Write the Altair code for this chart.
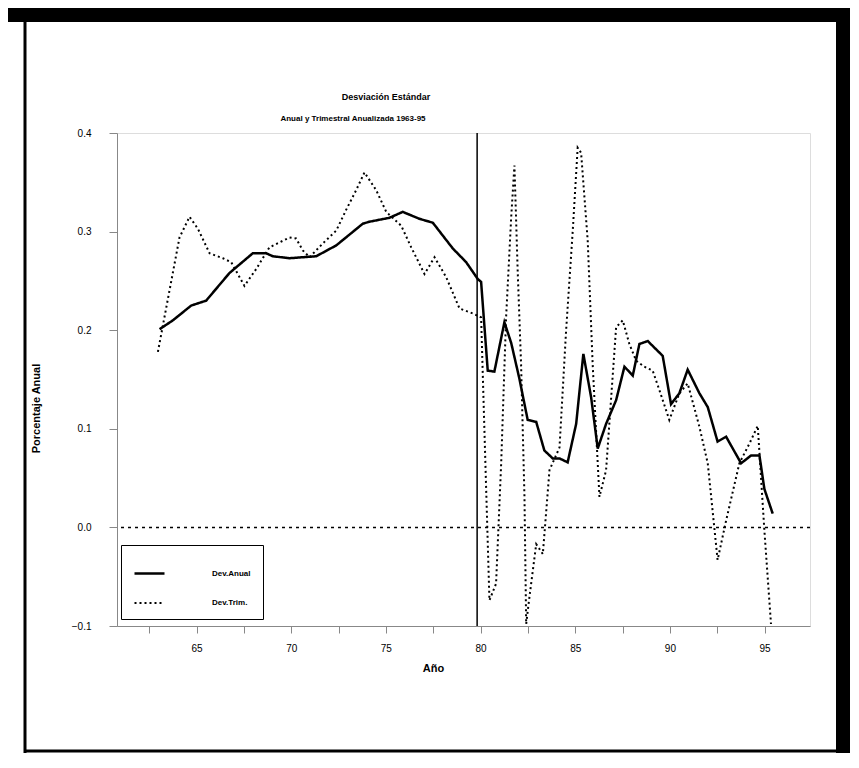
import altair as alt
import pandas as pd

title_text = "Desviación Estándar"
subtitle_text = "Anual y Trimestral Anualizada 1963-95"
y_title = "Porcentaje Anual"
x_title = "Año"
series = ["Dev.Anual", "Dev.Trim."]

anual_year = [63.05, 63.75, 64.72, 65.51, 66.74, 67.97, 68.68, 69.03, 69.91, 71.32,
              72.38, 73.78, 74.13, 75.19, 75.89, 76.77, 77.48, 78.53, 79.24, 79.85,
              80.03, 80.38, 80.73, 81.26, 81.62, 82.05, 82.49, 82.94, 83.37, 83.81,
              84.17, 84.60, 85.05, 85.43, 85.84, 86.19, 86.63, 87.16, 87.60, 88.04,
              88.39, 88.83, 89.62, 90.06, 90.50, 90.94, 91.56, 92.00, 92.52, 92.97,
              93.76, 94.29, 94.73, 94.99, 95.43]
anual_val = [0.201, 0.210, 0.225, 0.230, 0.258, 0.278, 0.278, 0.275, 0.273, 0.275,
             0.286, 0.308, 0.310, 0.314, 0.320, 0.313, 0.309, 0.283, 0.269, 0.252,
             0.249, 0.159, 0.158, 0.208, 0.187, 0.151, 0.109, 0.107, 0.078, 0.070,
             0.070, 0.066, 0.105, 0.176, 0.132, 0.080, 0.105, 0.129, 0.163, 0.154,
             0.186, 0.189, 0.174, 0.125, 0.136, 0.160, 0.136, 0.122, 0.087, 0.092,
             0.065, 0.073, 0.073, 0.039, 0.014]

trim_year = [62.96, 63.57, 64.10, 64.63, 65.07, 65.69, 66.39, 66.83, 67.53, 68.15,
             68.85, 69.91, 70.26, 70.61, 70.97, 71.67, 72.38, 72.90, 73.43, 73.87,
             74.49, 75.02, 75.81, 76.34, 77.04, 77.57, 78.18, 78.89, 79.59, 80.03,
             80.47, 80.82, 81.09, 81.35, 81.62, 81.79, 81.96, 82.14, 82.32, 82.41,
             82.58, 82.94, 83.29, 83.64, 84.17, 84.52, 84.87, 85.13, 85.31, 85.66,
             85.92, 86.28, 86.63, 86.90, 87.16, 87.51, 87.86, 88.22, 88.65, 89.09,
             89.45, 89.97, 90.50, 90.94, 91.56, 92.00, 92.52, 92.97, 93.67, 94.20,
             94.64, 94.99, 95.34]
trim_val = [0.178, 0.240, 0.294, 0.315, 0.303, 0.278, 0.273, 0.269, 0.245, 0.262,
            0.284, 0.294, 0.293, 0.281, 0.274, 0.288, 0.301, 0.322, 0.342, 0.360,
            0.342, 0.320, 0.306, 0.284, 0.257, 0.274, 0.254, 0.222, 0.217, 0.213,
            -0.074, -0.057, 0.065, 0.213, 0.315, 0.367, 0.261, 0.166, 0.031, -0.098,
            -0.071, -0.017, -0.027, 0.058, 0.081, 0.200, 0.301, 0.385, 0.380, 0.291,
            0.166, 0.031, 0.058, 0.132, 0.203, 0.210, 0.186, 0.169, 0.163, 0.159,
            0.139, 0.109, 0.136, 0.146, 0.102, 0.065, -0.033, 0.007, 0.065, 0.085,
            0.103, -0.003, -0.098]

x_ticks = [62.5, 65, 67.5, 70, 72.5, 75, 77.5, 80, 82.5, 85, 87.5, 90, 92.5, 95]
y_ticks = [-0.1, 0.0, 0.1, 0.2, 0.3, 0.4]
zero_line = [0.0]
break_year = [79.82]

df = pd.concat([
    pd.DataFrame({"year": anual_year, "val": anual_val, "serie": series[0]}),
    pd.DataFrame({"year": trim_year, "val": trim_val, "serie": series[1]}),
])

FONT = "Liberation Sans"

x_enc = alt.X("year:Q",
              scale=alt.Scale(domain=[60.8, 97.4], nice=False, zero=False),
              axis=alt.Axis(values=x_ticks,
                            labelExpr="datum.value % 5 == 0 ? format(datum.value, 'd') : ''",
                            title=x_title, titleX=316, titleY=42, titleBaseline="middle",
                            tickSize=7, labelPadding=10, grid=False))
y_enc = alt.Y("val:Q",
              scale=alt.Scale(domain=[-0.1, 0.4], nice=False, zero=False),
              axis=alt.Axis(values=y_ticks, format=".1f", title=y_title,
                            titleX=-81, titleY=275, titleAngle=270, titleBaseline="middle",
                            tickSize=8, labelPadding=18, grid=False))

lines = alt.Chart(df).mark_line(color="black").encode(
    x=x_enc,
    y=y_enc,
    strokeDash=alt.StrokeDash("serie:N",
                              scale=alt.Scale(domain=series, range=[[1, 0], [2, 3]]),
                              legend=alt.Legend(title=None, orient="none",
                                                legendX=4, legendY=412,
                                                symbolType="stroke", symbolSize=900,
                                                symbolStrokeWidth=2.5, symbolStrokeColor="black",
                                                labelFontSize=8, labelFontWeight="bold",
                                                labelFont=FONT, rowPadding=8,
                                                padding=12, strokeColor="black",
                                                fillColor="white", labelOffset=46)),
    strokeWidth=alt.StrokeWidth("serie:N",
                                scale=alt.Scale(domain=series, range=[2.5, 2.0]),
                                legend=None),
)

zero = alt.Chart(pd.DataFrame({"y": zero_line})).mark_rule(
    color="black", strokeDash=[3, 4], strokeWidth=1.5).encode(y="y:Q")
vline = alt.Chart(pd.DataFrame({"x": break_year})).mark_rule(
    color="black", strokeWidth=1.5).encode(x="x:Q")

dummy = pd.DataFrame({"d": [0]})

# title and subtitle as text marks (the page frame would push a regular title off-page)
title_mark = alt.Chart(dummy).mark_text(
    text=title_text, font=FONT, fontSize=9, fontWeight="bold", color="black",
    align="center", baseline="middle").encode(x=alt.value(269), y=alt.value(-36))
subtitle_mark = alt.Chart(dummy).mark_text(
    text=subtitle_text, font=FONT, fontSize=8, fontWeight="bold", color="black",
    align="center", baseline="middle").encode(x=alt.value(236), y=alt.value(-14))

# scanned-page frame (decoration)
frame_top = alt.Chart(dummy).mark_rule(color="black", strokeWidth=16).encode(
    x=alt.value(-109), x2=alt.value(733), y=alt.value(-119))
frame_right = alt.Chart(dummy).mark_rule(color="black", strokeWidth=14).encode(
    x=alt.value(726), y=alt.value(-125), y2=alt.value(620))
frame_left = alt.Chart(dummy).mark_rule(color="black", strokeWidth=3).encode(
    x=alt.value(-92), y=alt.value(-112), y2=alt.value(620))
frame_bottom = alt.Chart(dummy).mark_rule(color="black", strokeWidth=3).encode(
    x=alt.value(-93), x2=alt.value(720), y=alt.value(618))

chart = alt.layer(frame_top, frame_right, frame_left, frame_bottom,
                  title_mark, subtitle_mark, zero, vline, lines).properties(
    width=693, height=493,
    autosize=alt.AutoSizeParams(type="none"),
    padding={"left": 109, "top": 125, "right": 40, "bottom": 128},
).configure_view(stroke="black", strokeWidth=1.5).configure_axis(
    domainColor="black", tickColor="black", labelColor="black", titleColor="black",
    labelFont=FONT, titleFont=FONT, labelFontSize=8, titleFontSize=8,
    labelFontWeight="bold", titleFontWeight="bold", domainWidth=1.5, tickWidth=1.2,
).configure(background="white")

chart.save("out.html", embed_options={"renderer": "svg", "actions": False})
